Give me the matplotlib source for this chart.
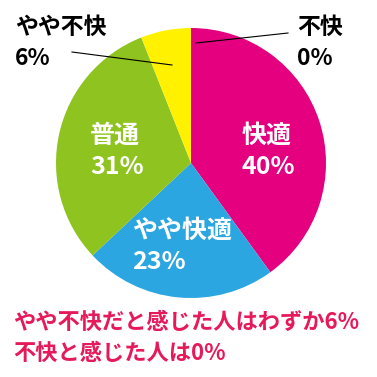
import matplotlib
matplotlib.use("Agg")
import matplotlib.pyplot as plt

plt.rcParams['font.family'] = ['Noto Sans CJK JP', 'DejaVu Sans']

# data
labels = ['快適', 'やや快適', '普通', 'やや不快', '不快']
values = [40, 23, 31, 6, 0]
colors = ['#E4007F', '#2CA6E0', '#8FC31F', '#FFF100', '#E60012']
note_lines = ['やや不快だと感じた人はわずか6%', '不快と感じた人は0%']

W = H = 377
fig = plt.figure(figsize=(3.77, 3.77), dpi=100)
ax = fig.add_axes([0, 0, 1, 1])

cx, cy, r = 191, H - 163, 135
ax.pie(values, colors=colors, startangle=90, counterclock=False,
       center=(cx, cy), radius=r, frame=True,
       wedgeprops=dict(linewidth=0))
ax.set_xlim(0, W)
ax.set_ylim(0, H)
ax.set_aspect('equal')
ax.axis('off')

# inside labels (pixel positions from top-left)
inside = {0: (242, 151), 1: (132, 246), 2: (90, 151)}
for i, (x, y) in inside.items():
    ax.text(x, H - y, f'{labels[i]}\n{values[i]}%', color='white',
            fontsize=18, fontweight='bold', ha='left', va='center',
            linespacing=1.38)

# outside labels with leader lines
ax.text(15, H - 43, f'{labels[3]}\n{values[3]}%', color='black',
        fontsize=16.5, fontweight='bold', ha='left', va='center', linespacing=1.45)
ax.plot([72, 172], [H - 52, H - 65], color='black', lw=0.8)
ax.text(297, H - 43, f'{labels[4]}\n{values[4]}%', color='black',
        fontsize=16.5, fontweight='bold', ha='left', va='center', linespacing=1.45)
ax.plot([288, 196], [H - 33, H - 43], color='black', lw=0.8)

# note
ax.text(13, H - 338, '\n'.join(note_lines), color='#E6195A',
        fontsize=16, fontweight='bold', ha='left', va='center', linespacing=1.45)

fig.savefig('out.png', dpi=100)
